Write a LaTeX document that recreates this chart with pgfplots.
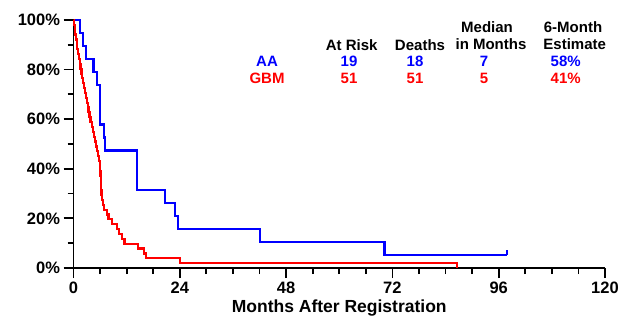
\documentclass[border=0pt]{standalone}
\usepackage{pgfplots}
\pgfplotsset{compat=1.18}
\usepackage{fontspec}
\setmainfont{Liberation Sans}
\begin{document}
\begin{tikzpicture}[x=1pt,y=1pt]
\path[use as bounding box] (0,0) rectangle (623,321);
\begin{axis}[
  at={(73.5pt,53pt)}, anchor=south west,
  scale only axis, width=531.5pt, height=248pt,
  xmin=0, xmax=120, ymin=0, ymax=100,
  axis x line*=bottom, axis y line*=left,
  axis line style={line width=1.8pt, black},
  tick align=outside,
  major tick length=10pt, minor tick length=6pt,
  tick style={line width=1.8pt, black},
  xtick={0,24,...,120}, ytick={0,20,...,100},
  minor xtick={6,12,18,30,36,42,54,60,66,78,84,90,102,108,114},
  minor ytick={10,30,50,70,90},
  /pgf/number format/assume math mode=true,
  ticklabel style={font=\fontsize{16.5}{18}\selectfont\bfseries},
  yticklabel={\pgfmathprintnumber{\tick}\%},
  xlabel={Months After Registration},
  xlabel style={font=\fontsize{17.5}{19}\selectfont\bfseries},
  clip=false,
  const plot,
]
\addplot[blue, line width=2.2pt] coordinates {
(0,100) (1.5,94.74) (2.1,89.47) (2.8,84.21) (4.5,78.95) (5.3,73.68)
(5.9,57.89) (6.8,52.63) (7.2,47.37) (14.4,31.58) (20.7,26.32)
(23.0,21.05) (23.6,15.79) (42.1,10.53) (70.2,5.26) (97.8,5.26)
};
\addplot[blue, line width=2.2pt, sharp plot] coordinates {(97.8,5.26) (97.8,7.3)};
\addplot[red, line width=2.2pt] coordinates {
(0,100) (0.1,98.04) (0.25,96.08) (0.4,94.12) (0.55,92.16) (0.7,90.20)
(0.85,88.24) (1.0,86.27) (1.2,84.31) (1.4,82.35) (1.6,80.39)
(1.8,78.43) (2.0,76.47) (2.2,74.51) (2.4,72.55) (2.6,70.59)
(2.8,68.63) (3.0,66.67) (3.2,64.71) (3.4,62.75) (3.6,60.78)
(3.85,58.82) (4.1,56.86) (4.4,54.90) (4.7,52.94) (4.9,50.98)
(5.1,49.02) (5.3,47.06) (5.5,45.10) (5.8,43.14) (6.0,41.18)
(6.05,39.22) (6.1,37.25) (6.15,35.29) (6.2,33.33) (6.25,31.37)
(6.3,29.41) (6.35,27.45) (6.6,25.49) (6.9,23.53) (7.5,21.57)
(7.9,19.61) (8.7,17.65) (9.8,15.69) (10.2,13.73) (11.0,11.76)
(11.5,9.80) (14.6,7.84) (15.9,5.88) (16.4,3.92) (24.0,1.96)
(86.5,0)
};
\end{axis}
\begin{scope}[every node/.style={font=\fontsize{15}{17}\selectfont\bfseries, anchor=base, inner sep=0pt}]
\node at (351.7,270.3) {At Risk};
\node at (420,270.3) {Deaths};
\node at (487,288) {Median};
\node at (491,271.5) {in Months};
\node at (573,288) {6-Month};
\node at (574.7,271.5) {Estimate};
\node[blue] at (267,254.3) {AA};
\node[blue] at (349,254.3) {19};
\node[blue] at (415,254.3) {18};
\node[blue] at (484,254.3) {7};
\node[blue] at (565.7,254.3) {58\%};
\node[red] at (267,237.7) {GBM};
\node[red] at (349,237.7) {51};
\node[red] at (415,237.7) {51};
\node[red] at (484,237.7) {5};
\node[red] at (565.7,237.7) {41\%};
\end{scope}
\end{tikzpicture}
\end{document}
